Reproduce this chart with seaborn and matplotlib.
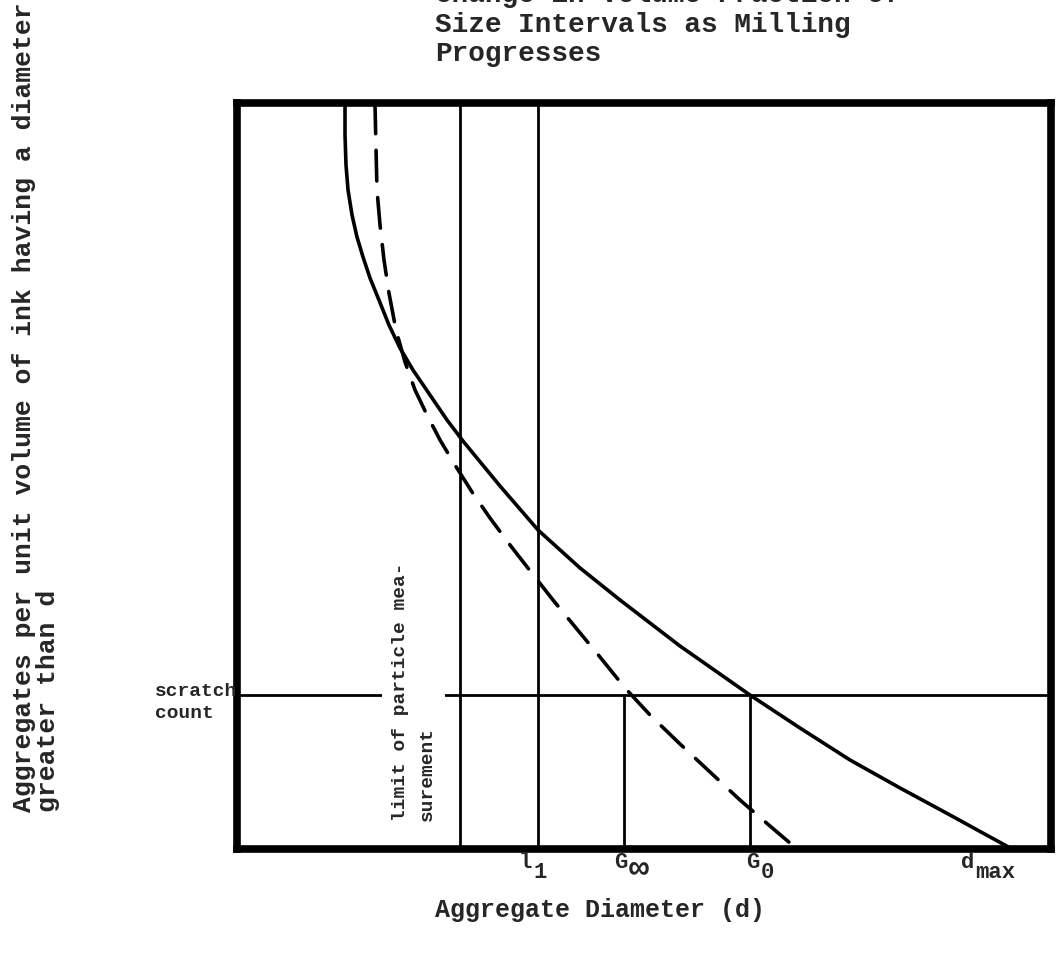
import numpy as np
import pandas as pd
import matplotlib
matplotlib.use("Agg")
import matplotlib.pyplot as plt
from matplotlib.transforms import blended_transform_factory
import seaborn as sns

# ---------------- data (arbitrary units, schematic) ----------------
# before milling (solid curve)
solid_x = [13.27, 13.27, 13.39, 13.64, 14.13, 14.74, 15.48, 16.34, 17.44, 18.67, 20.02, 21.62,
           23.71, 25.80, 27.76, 32.31, 36.98, 42.14, 47.05, 54.42, 63.02, 69.16, 75.31, 81.45,
           87.59, 95.21]
solid_y = [100.0, 95.71, 91.69, 88.34, 84.99, 82.04, 79.36, 76.54, 73.59, 70.24, 67.16, 64.21,
           60.86, 57.51, 54.69, 48.66, 42.76, 37.67, 33.38, 27.21, 20.64, 16.22, 11.93, 8.18,
           4.56, 0.0]
# after milling (dashed curve)
dash_x = [16.95, 17.08, 17.20, 17.57, 18.06, 18.67, 19.53, 20.64, 21.87, 23.34, 24.94, 26.78,
          28.87, 31.08, 33.54, 36.12, 38.82, 41.65, 44.59, 47.67, 50.74, 54.42, 58.11, 61.79,
          65.48, 68.80]
dash_y = [100.0, 93.70, 88.34, 83.65, 78.95, 74.53, 69.57, 65.28, 61.53, 58.18, 54.83, 51.47,
          47.86, 44.37, 40.75, 37.13, 33.38, 29.62, 25.74, 21.58, 17.96, 14.08, 10.32, 6.57,
          3.08, 0.0]

limit_x = 27.4          # limit of particle measurement
l1_x = 36.98
g_inf_x = 47.6
g0_x = 63.02
dmax_x = 95.21
scratch_y = 20.64

label_x = [l1_x, g_inf_x, g0_x, dmax_x]
label_main = ["l", "G", "G", "d"]
label_sub = ["1", "\u221e", "0", "max"]

title_lines = ["Change in Volume Fraction of", "Size Intervals as Milling", "Progresses"]
ylabel_lines = ["Aggregates per unit volume of ink having a diameter", "greater than d"]
xlabel = "Aggregate Diameter (d)"

# ---------------- style ----------------
sns.set_theme(style="white")
FONT = "Liberation Mono"
plt.rcParams["font.family"] = [FONT, "DejaVu Sans Mono", "DejaVu Sans"]

W, H = 1057, 977
fig = plt.figure(figsize=(W / 100, H / 100), dpi=100)
L, R, T, B = 237, 1051, 103, 849
ax = fig.add_axes([L / W, 1 - B / H, (R - L) / W, (B - T) / H])
ax.set_xlim(0, 100)
ax.set_ylim(0, 100)

solid_df = pd.DataFrame({"d": solid_x, "n": solid_y})
dash_df = pd.DataFrame({"d": dash_x, "n": dash_y})

sns.lineplot(data=solid_df, x="d", y="n", ax=ax, color="black", lw=2.6,
             sort=False, estimator=None)
sns.lineplot(data=dash_df, x="d", y="n", ax=ax, color="black", lw=2.6,
             sort=False, estimator=None)
ln = ax.lines[-1]
ln.set_dashes((8.5, 4.6))
ln.set_dash_capstyle("round")
for l in ax.lines:
    l.set_solid_joinstyle("round")

ax.vlines([limit_x, l1_x], 0, 100, color="black", lw=2.0)
ax.vlines([g_inf_x, g0_x], 0, scratch_y, color="black", lw=2.0)
ax.axhline(scratch_y, color="black", lw=2.0)

for s in ax.spines.values():
    s.set_visible(True)
    s.set_color("black")
    s.set_linewidth(5.5)

ax.set_xticks([])
ax.set_yticks([])
ax.set_xlabel("")
ax.set_ylabel("")

# axis point labels with full-size lowered subscripts
trans = blended_transform_factory(ax.transData, ax.transAxes)
anchor_dx = [-6, 3, 10, -38]   # px offset of the label joint from each line
sub_size = [16, 24, 16, 16]
sub_dy = [-29, -28, -29, -29]
for x, m, s, dx, fs, dy in zip(label_x, label_main, label_sub, anchor_dx, sub_size, sub_dy):
    ax.annotate(m, xy=(x, 0), xycoords=trans, xytext=(dx * 0.72, -19 * 0.72),
                textcoords="offset points", ha="right", va="baseline",
                fontsize=16, fontweight="bold", annotation_clip=False)
    ax.annotate(s, xy=(x, 0), xycoords=trans, xytext=((dx + 1) * 0.72, dy * 0.72),
                textcoords="offset points", ha="left", va="baseline",
                fontsize=fs, fontweight="bold", annotation_clip=False)

# rotated in-plot label, white box makes the gap in the scratch line
ax.text(0.217, 0.038, "limit of particle mea-\nsurement", transform=ax.transAxes,
        rotation=90, ha="center", va="bottom", ma="left", fontsize=14,
        fontweight="bold", linespacing=1.75, zorder=5,
        bbox=dict(boxstyle="square,pad=0.5", fc="white", ec="none"))

# scratch count label
fig.text(155 / W, 1 - 691 / H, "scratch", ha="left", va="center",
         fontsize=14, fontweight="bold")
fig.text(155 / W, 1 - 714 / H, "count", ha="left", va="center",
         fontsize=14, fontweight="bold")

# title (typewritten, top line partly cut off)
for i, line in enumerate(title_lines):
    fig.text(435 / W, 1 - (2 + 29.5 * i) / H, line, ha="left", va="baseline",
             fontsize=20, fontweight="bold")

# y label (two rotated lines)
fig.text(24 / W, 1 - 812 / H, ylabel_lines[0], rotation=90, ha="center",
         va="bottom", fontsize=19, fontweight="bold")
fig.text(48 / W, 1 - 812 / H, ylabel_lines[1], rotation=90, ha="center",
         va="bottom", fontsize=19, fontweight="bold")

# x label
fig.text(600 / W, 1 - 910 / H, xlabel, ha="center", va="center",
         fontsize=18, fontweight="bold")

fig.savefig("out.png", dpi=100, facecolor="white")
